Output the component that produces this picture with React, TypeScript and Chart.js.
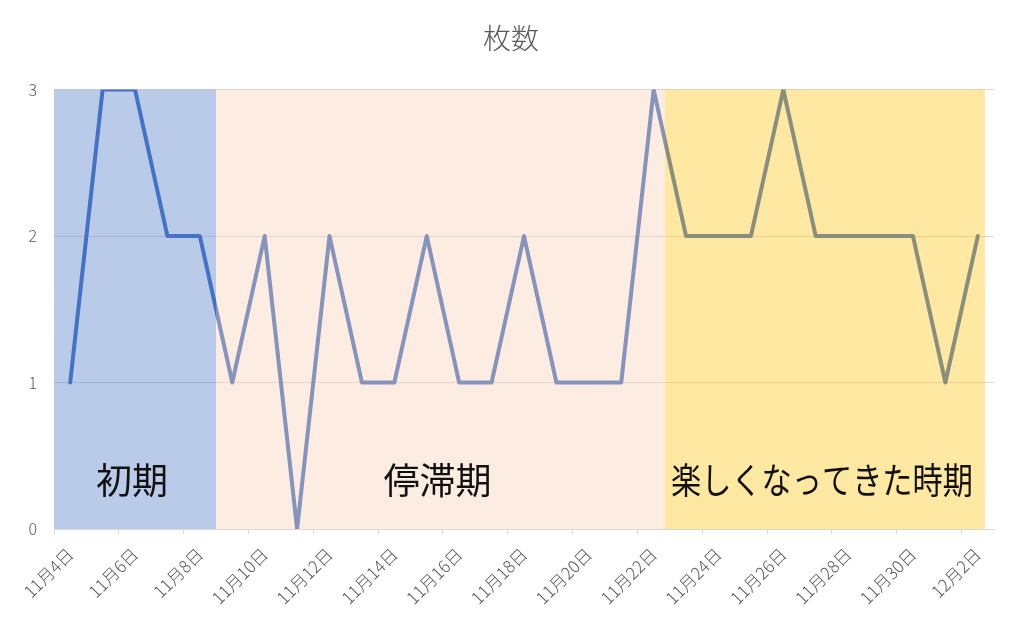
import React, { useEffect, useRef } from "react";
import { Chart, registerables } from "chart.js";

Chart.register(...registerables);

// 日付ごとの枚数
const days = [
  "11月4日", "11月5日", "11月6日", "11月7日", "11月8日", "11月9日", "11月10日",
  "11月11日", "11月12日", "11月13日", "11月14日", "11月15日", "11月16日", "11月17日",
  "11月18日", "11月19日", "11月20日", "11月21日", "11月22日", "11月23日", "11月24日",
  "11月25日", "11月26日", "11月27日", "11月28日", "11月29日", "11月30日", "12月1日",
  "12月2日",
];
const counts = [
  1, 3, 3, 2, 2, 1, 2, 0, 2, 1, 1, 2, 1, 1, 2, 1, 1, 1, 3, 2, 2, 2, 3, 2, 2, 2, 2, 1, 2,
];

// 期間（カテゴリ番号で範囲）
const periodNames = ["初期", "停滞期", "楽しくなってきた時期"];
const periodFrom = [-0.5, 4.5, 18.35];
const periodTo = [4.5, 18.35, 28.22];
const periodColors = [
  "rgba(68, 114, 196, 0.37)",
  "rgba(248, 203, 173, 0.37)",
  "rgba(255, 192, 0, 0.37)",
];
const periodLabelLevel = 0.335;

const FONT = "'Noto Sans CJK JP', 'Noto Sans', sans-serif";
const GRAY = "#595959";
const GRID = "#D9D9D9";

const periodPlugin = {
  id: "periods",
  afterDatasetsDraw(chart: Chart) {
    const { ctx } = chart;
    const x = chart.scales.x;
    const y = chart.scales.y;
    const top = y.getPixelForValue(y.max);
    const bottom = y.getPixelForValue(y.min);
    ctx.save();
    periodNames.forEach((name, i) => {
      const left = x.getPixelForValue(periodFrom[i]);
      const right = x.getPixelForValue(periodTo[i]);
      ctx.fillStyle = periodColors[i];
      ctx.fillRect(left, top, right - left, bottom - top);
    });
    ctx.font = `36px ${FONT}`;
    ctx.fillStyle = "#111111";
    ctx.textAlign = "center";
    ctx.textBaseline = "middle";
    periodNames.forEach((name, i) => {
      const left = x.getPixelForValue(periodFrom[i]);
      const right = x.getPixelForValue(periodTo[i]);
      ctx.fillText(name, (left + right) / 2 - 3, y.getPixelForValue(periodLabelLevel), right - left - 18);
    });
    ctx.restore();
  },
};

export default function App() {
  const canvasRef = useRef<HTMLCanvasElement>(null);
  const chartRef = useRef<Chart | null>(null);

  useEffect(() => {
    if (!canvasRef.current) return;
    if (chartRef.current) chartRef.current.destroy();

    chartRef.current = new Chart(canvasRef.current, {
      type: "line",
      data: {
        labels: days,
        datasets: [
          {
            label: "枚数",
            data: counts,
            borderColor: "#4472C4",
            borderWidth: 4,
            borderJoinStyle: "round",
            borderCapStyle: "round",
            pointRadius: 0,
            tension: 0,
            fill: false,
          },
        ],
      },
      options: {
        responsive: false,
        animation: false,
        layout: { padding: { left: 28, right: 28, top: 0, bottom: 0 } },
        plugins: {
          legend: { display: false },
          tooltip: { enabled: false },
          title: {
            display: true,
            text: "枚数",
            color: GRAY,
            font: { family: FONT, size: 28, weight: 300 },
            padding: { top: 22, bottom: 34 },
          },
        },
        scales: {
          x: {
            offset: true,
            grid: {
              offset: true,
              drawOnChartArea: false,
              drawTicks: true,
              tickLength: 5,
              color: (c: any) => (c.index !== undefined && c.index % 2 === 0 ? GRID : "rgba(0,0,0,0)"),
            },
            border: { display: true, color: GRID, width: 1 },
            ticks: {
              autoSkip: false,
              minRotation: 45,
              maxRotation: 45,
              padding: 10,
              color: GRAY,
              font: { family: FONT, size: 17, weight: 300 },
              callback: (_v: any, i: number) => (i % 2 === 0 ? days[i] : ""),
            },
            afterFit: (s: any) => {
              s.height = 104;
            },
          },
          y: {
            min: 0,
            max: 3,
            grid: { color: GRID, drawTicks: false },
            border: { display: false },
            ticks: {
              stepSize: 1,
              padding: 17,
              color: GRAY,
              font: { family: FONT, size: 16, weight: 300 },
            },
            afterFit: (s: any) => {
              s.width = 26;
            },
          },
        },
      },
      plugins: [periodPlugin],
    });

    return () => {
      if (chartRef.current) {
        chartRef.current.destroy();
        chartRef.current = null;
      }
    };
  }, []);

  return (
    <div style={{ position: "absolute", left: 0, top: 0, width: 1022, height: 633, background: "#fff" }}>
      <canvas ref={canvasRef} width={1022} height={633} style={{ display: "block" }} />
    </div>
  );
}
